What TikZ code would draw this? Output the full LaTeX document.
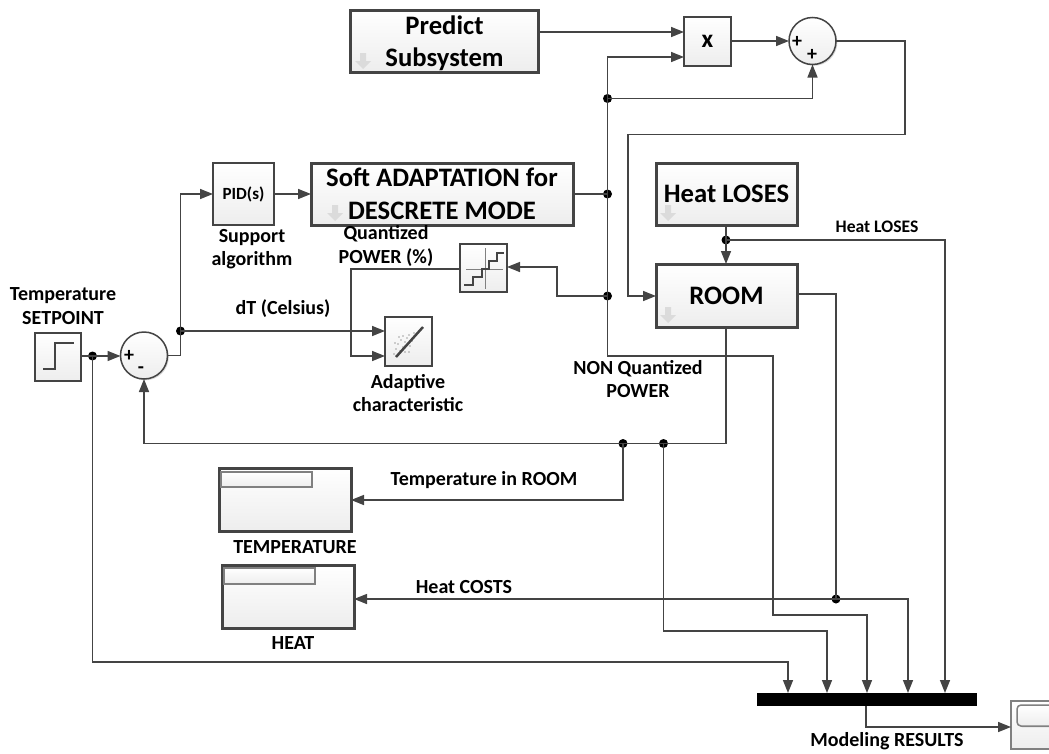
\documentclass[tikz,border=0pt]{standalone}
\usepackage{fontspec}
\setmainfont{Carlito}
\usetikzlibrary{arrows.meta,shadows}
\def\px{0.75pt}
\definecolor{ln}{HTML}{444444}
\tikzset{
  x=0.75pt,y=-0.75pt,
  every node/.style={font=\bfseries,text=black},
  boxbase/.style={draw=ln,top color=white,bottom color=black!7,outer sep=0pt,inner sep=0pt,
     general shadow={shadow xshift=1pt,shadow yshift=-1pt,fill=black,opacity=.15}},
  thinbox/.style={boxbase,line width=1.5*\px},
  subsys/.style={boxbase,line width=3*\px,align=center},
  sumnode/.style={boxbase,circle,line width=1.5*\px,minimum size=47*\px},
  conn/.style={draw=ln,line width=1.5*\px,line join=miter},
  arr/.style={conn,-{Triangle[length=13*\px,width=10*\px,fill=ln]}},
  junc/.style={circle,fill=black,inner sep=0pt,minimum size=9*\px,outer sep=0pt},
  lbl/.style={font=\fontsize{15pt}{17.6pt}\selectfont\bfseries,align=center,inner sep=0pt},
  big/.style={font=\fontsize{20pt}{24.5pt}\selectfont\bfseries},
  iconline/.style={draw=ln,line width=2*\px},
}
\newcommand{\subicon}[2]{\fill[black!14] (#1-3,#2-8)--(#1+3,#2-8)--(#1+3,#2)--(#1+8,#2)--(#1,#2+8)--(#1-8,#2)--(#1-3,#2)--cycle;}
\begin{document}
\begin{tikzpicture}
\path[use as bounding box] (0,0) rectangle (1049,753);
\clip (0,0) rectangle (1049,753);
% blocks
\node[subsys,big,minimum width=188*\px,minimum height=62*\px] (predict) at (444.5,41) {\rule{0pt}{17.5pt}Predict\\Subsystem};
\node[subsys,big,minimum width=262*\px,minimum height=62*\px] (soft) at (442,194) {Soft ADAPTATION for\\DESCRETE MODE};
\node[subsys,big,minimum width=141*\px,minimum height=62*\px] (loses) at (726.5,194) {Heat LOSES};
\node[subsys,big,minimum width=141*\px,minimum height=63*\px] (room) at (726.5,295.5) {ROOM};
\subicon{363}{61}\subicon{335}{213}\subicon{668}{213}\subicon{668}{315}
\node[thinbox,minimum width=47*\px,minimum height=49*\px,font=\fontsize{19pt}{20pt}\selectfont\bfseries] (mul) at (707.5,41.5) {x};
\node[sumnode] (sumT) at (812.5,41) {};
\node[thinbox,minimum width=61*\px,minimum height=62*\px,font=\fontsize{12.8pt}{15pt}\selectfont\bfseries] (pid) at (243.5,194) {PID(s)};
\node[thinbox,minimum width=46*\px,minimum height=48*\px] (step) at (58,357) {};
\node[sumnode] (sumL) at (144,355.5) {};
\node[thinbox,minimum width=47*\px,minimum height=49*\px] (adapt) at (408.5,341.5) {};
\node[thinbox,minimum width=47*\px,minimum height=48*\px] (quant) at (483.5,268) {};
\node[subsys,minimum width=132*\px,minimum height=63*\px] (temp) at (285,499.5) {};
\node[subsys,minimum width=132*\px,minimum height=63*\px] (heat) at (288,596.5) {};
\node[thinbox,draw=gray,minimum width=91*\px,minimum height=15*\px] (tempin) at (266.5,479.5) {};
\node[thinbox,draw=gray,minimum width=91*\px,minimum height=16*\px] (heatin) at (269.5,576) {};
\node[fill=black,minimum width=220*\px,minimum height=13*\px,inner sep=0pt,outer sep=0pt] (bus) at (867,699.5) {};
\node[thinbox,draw=gray,minimum width=60*\px,minimum height=48*\px] (scope) at (1041,725) {};
\node[thinbox,draw=gray,rounded corners=4*\px,minimum width=50*\px,minimum height=21*\px] (scopein) at (1042,715.5) {};
% icons
\draw[iconline] (43,369)--(55,369)--(55,343)--(74,343);
\draw[draw=gray,line width=1*\px] (485,248)--(485,289) (466,269)--(503,269);
\draw[iconline] (464,285)--(473,285)--(473,277)--(482,277)--(482,269)--(489,269)--(489,261)--(497,261)--(497,253)--(504,253);
\draw[draw=ln,line width=2.5*\px] (396,357)--(423,327);
\foreach \a/\b in {394/354,396/349,398/344,400/351,401/340,403/347,405/342,407/338,409/335,410/346,405/352,412/341,414/333,409/352,395/343,399/337,403/336}
  \fill[ln] (\a,\b) circle[radius=0.6*\px];
% sign labels
\node[lbl] (plusTa) at (797,42) {+};
\node[lbl] (plusTb) at (812,55) {+};
\node[lbl] (plusL) at (129,356) {+};
\node[lbl] (minusL) at (141,370) {-};
% junctions
\node[junc] (jS) at (92.5,356) {};
\node[junc] (jE) at (180.5,331) {};
\node[junc] (jT) at (607.5,98.5) {};
\node[junc] (jB) at (607.5,194) {};
\node[junc] (jC) at (607.5,296) {};
\node[junc] (jL) at (726,240) {};
\node[junc] (jR1) at (623,443.5) {};
\node[junc] (jR2) at (663.5,443.5) {};
\node[junc] (jH) at (836,599) {};
% connectors
\draw[arr] (predict.east |- 0,32) -- (mul.west |- 0,32);
\draw[arr] (jT.center) -- (607.5,57) -- (mul.west |- 0,57);
\draw[arr] (mul.east |- sumT.west) -- (sumT.west);
\draw[arr] (jT.center) -- (812.5,98.5) -- (sumT.south);
\draw[conn] (jT.center) -- (jB.center) -- (jC.center);
\draw[conn] (soft.east) -- (jB.center);
\draw[arr] (sumT.east) -- (905,41) -- (905,134.5) -- (628,134.5) -- (628,296) -- (room.west |- 0,296);
\draw[arr] (jC.center) -- (557,296) -- (557,267) -- (quant.east |- 0,267);
\draw[arr] (quant.west |- 0,269) -- (351,269) -- (351,356) -- (adapt.west |- 0,356);
\draw[arr] (jE.center) -- (adapt.west |- jE.center);
\draw[arr] (sumL.east) -- (180.5,355.5) -- (jE.center) -- (180.5,194) -- (pid.west);
\draw[arr] (pid.east) -- (soft.west);
\draw[arr] (step.east |- jS.center) -- (sumL.west |- jS.center);
\draw[arr] (jS.center) -- (92.5,662) -- (788,662) -- (788,0 |- bus.north);
\draw[arr] (726,0 |- loses.south) -- (726,0 |- room.north);
\draw[arr] (jL.center) -- (945,240) -- (945,0 |- bus.north);
\draw[arr] (726,0 |- room.south) -- (726,443.5) -- (144,443.5) -- (sumL.south);
\draw[arr] (jR1.center) -- (623,500) -- (temp.east |- 0,500);
\draw[arr] (jR2.center) -- (663.5,631) -- (827,631) -- (827,0 |- bus.north);
\draw[arr] (jC.center) -- (607.5,356) -- (773,356) -- (773,615) -- (867,615) -- (867,0 |- bus.north);
\draw[conn] (room.east |- 0,294) -- (836,294) -- (jH.center);
\draw[arr] (jH.center) -- (heat.east |- 0,599);
\draw[arr] (jH.center) -- (908,599) -- (908,0 |- bus.north);
\draw[arr] (866,0 |- bus.south) -- (866,727) -- (scope.west |- 0,727);
% labels
\node[lbl] (lSet) at (63,306) {Temperature\\SETPOINT};
\node[lbl] (lSup) at (252,249) {Support\\algorithm};
\node[lbl] (lQua) at (386,246) {Quantized\\POWER (\%)};
\node[lbl] (ldT) at (283,309) {dT (Celsius)};
\node[lbl] (lAda) at (408,393) {Adaptive\\characteristic};
\node[lbl] (lNon) at (638,379) {NON Quantized\\POWER};
\node[lbl,font=\fontsize{13.2pt}{16pt}\selectfont\bfseries] (lLos) at (877,227) {Heat LOSES};
\node[lbl] (lTR) at (484,480) {Temperature in ROOM};
\node[lbl] (lTem) at (295,547) {TEMPERATURE};
\node[lbl] (lHea) at (293,643) {HEAT};
\node[lbl] (lCos) at (464,587) {Heat COSTS};
\node[lbl] (lRes) at (887,741) {Modeling RESULTS};
\end{tikzpicture}
\end{document}
